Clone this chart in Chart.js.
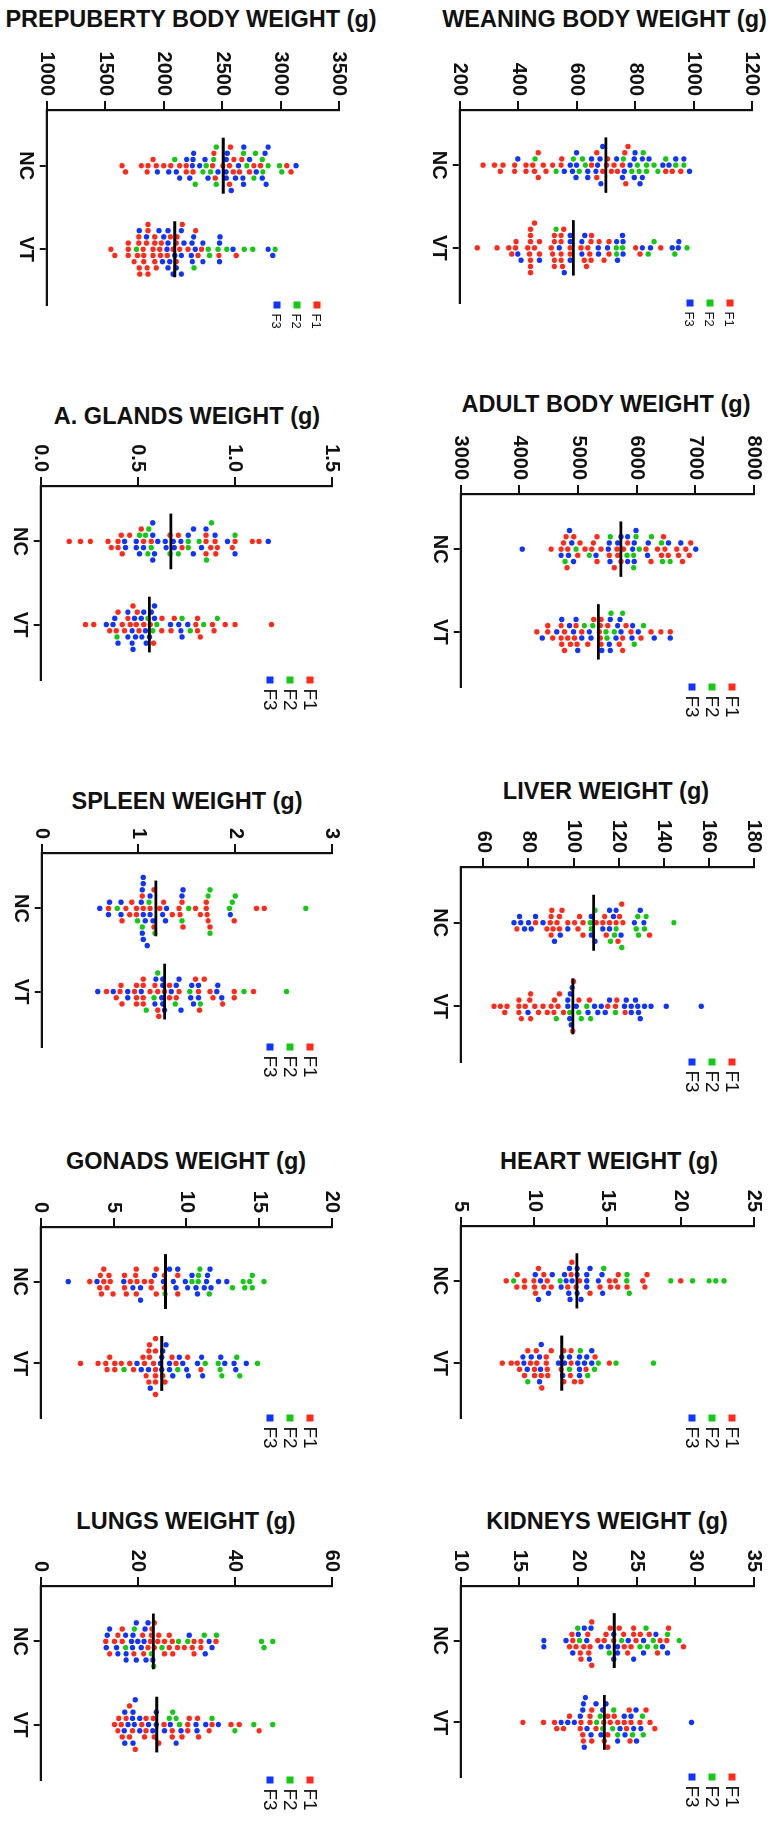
<!DOCTYPE html>
<html><head><meta charset="utf-8">
<script src="https://cdn.jsdelivr.net/npm/chart.js@4.4.1/dist/chart.umd.min.js"></script>
<style>
html,body{margin:0;padding:0;background:#fff;}
body{width:776px;height:1825px;position:relative;overflow:hidden;font-family:"Liberation Sans",Arial,Helvetica,sans-serif;}
.ttl{position:absolute;white-space:nowrap;font-weight:bold;font-size:23.5px;line-height:23.5px;color:#111;transform:translateX(-50%);}
canvas{position:absolute;transform-origin:0 0;transform:rotate(90deg);}
</style></head><body>
<script>
// ---------- DATA ----------
const categories = ['NC', 'VT'];
const generations = ['F1', 'F2', 'F3'];
const panelTitles = ['PREPUBERTY BODY WEIGHT (g)', 'WEANING BODY WEIGHT (g)', 'A. GLANDS WEIGHT (g)', 'ADULT BODY WEIGHT (g)',
  'SPLEEN WEIGHT (g)', 'LIVER WEIGHT (g)', 'GONADS WEIGHT (g)', 'HEART WEIGHT (g)', 'LUNGS WEIGHT (g)', 'KIDNEYS WEIGHT (g)'];
const valueMin = [1000, 200, 0, 3000, 0, 50, 0, 5, 0, 10];
const valueMax = [3500, 1200, 1.5, 8000, 3, 180, 20, 25, 60, 35];
const ticksPrepuberty = [1000, 1500, 2000, 2500, 3000, 3500];
const ticksWeaning = [200, 400, 600, 800, 1000, 1200];
const ticksGlands = [0, 0.5, 1.0, 1.5];
const ticksAdult = [3000, 4000, 5000, 6000, 7000, 8000];
const ticksSpleen = [0, 1, 2, 3];
const ticksLiver = [60, 80, 100, 120, 140, 160, 180];
const ticksGonads = [0, 5, 10, 15, 20];
const ticksHeart = [5, 10, 15, 20, 25];
const ticksLungs = [0, 20, 40, 60];
const ticksKidneys = [10, 15, 20, 25, 30, 35];
const tickDecimals = [0, 0, 1, 0, 0, 0, 0, 0, 0, 0];
// medians [NC, VT]
const medianPrepuberty = [2510, 2095];
const medianWeaning = [700, 589];
const medianGlands = [0.67, 0.56];
const medianAdult = [5732, 5347];
const medianSpleen = [1.18, 1.27];
const medianLiver = [108.9, 99.7];
const medianGonads = [8.57, 8.31];
const medianHeart = [12.92, 11.89];
const medianLungs = [23.2, 23.9];
const medianKidneys = [23.09, 22.24];

const prepubertyNC_F1 = [2564,2251,2442,2573,2735,2829,1910,2137,2194,2507,2772,3090,1645,1810,1859,2430,2601,2649,3053,1674,1867,1938,2001,2061,2595,2669,2194,2419,2564];
const prepubertyNC_F2 = [2712,2271,2336,2894,2095,2402,2450,2991,2428,2772,3011,2365,2786,2843,2450,2684,2849];
const prepubertyNC_F3 = [2578,2641,1947,2223,2678,2044,2257,2354,2615,2684,2843,2137,2197,2533,2792,2877,2109,2246,2379,2536,2868,3133,2308,2465,2544,2686,2894,2251,2536,2735];
const prepubertyVT_F1 = [1830,1853,2032,2160,1830,1924,2294,1697,1788,1867,1924,1973,2137,2621,1549,1697,1748,1796,1867,1924,1981,2209,2473,1583,1697,1791,1859,1910,1967,2081,2115,2325,1788,1910,2109,1776,1825,1867,1938,2058,2109,2274];
const prepubertyVT_F2 = [2260,1768,2382,2541,2689,2763,2954,2393,2465];
const prepubertyVT_F3 = [2152,1791,1990,2052,2109,2152,2336,2479,2038,2081,2237,2479,2038,2095,2152,2257,2593,2894,2038,2174,2246,2482,2934,1853,1961,2029,2243,2001,2336,2271];

const weaningNC_F1 = [469,669,768,388,469,549,702,719,757,956,280,319,339,427,450,486,518,689,706,728,348,388,427,456,495,547,651,669,740,765,905,927,776];
const weaningNC_F2 = [828,609,589,620,789,808,530,865,905,967,630,839,878,458,760,939,814,839];
const weaningNC_F3 = [600,683,757,848,638,672,797,825,939,666,895,916,399,558,586,638,651,800,825,986,578,598,797,967,689,737,817,600,680,763,783];
const weaningVT_F1 = [439,518,645,393,442,524,547,677,442,473,578,626,651,711,260,328,368,391,433,456,513,552,578,634,694,711,802,888,378,442,456,524,547,615,649,817,442,524,547,649,442,524,556,638,442,473,547];
const weaningVT_F2 = [736,757,530,978,845,865,936,737];
const weaningVT_F3 = [541,578,628,399,674,473,618,675,737,757,825,853,927,950,410,578,706,740,759,578,618,759,948,558];

const glandsNC_F1 = [0.851,0.518,0.666,0.851,0.898,0.364,0.398,0.458,0.709,0.851,0.876,0.902,1.001,0.147,0.205,0.256,0.347,0.398,0.420,0.529,0.910,1.090,1.124,0.987,0.415,0.569,0.728];
const glandsNC_F2 = [0.509,0.569,0.552,0.540,0.666,0.557,0.709,0.760,0.854,1.001,0.760,0.816,0.880];
const glandsNC_F3 = [0.586,0.432,0.577,0.760,0.787,0.828,0.492,0.641,0.683,0.786,0.962,1.172,0.492,0.529,0.603,0.646,0.688,0.722,1.001,0.437,0.577,0.898,0.509,0.577,0.851];
const glandsVT_F1 = [0.449,0.506,0.475,0.531,0.420,0.492,0.625,0.808,0.389,0.432,0.461,0.497,0.581,0.671,0.822,0.231,0.273,0.688,0.893,0.950,1.001,1.189,0.355,0.398,0.799,0.885,0.623,0.808,0.564];
const glandsVT_F2 = [0.577,0.552,0.770,0.393,0.910,0.598,0.728,0.839];
const glandsVT_F3 = [0.586,0.381,0.540,0.728,0.543,0.711,0.338,0.372,0.471,0.569,0.722,0.757,0.475,0.668,0.398,0.449,0.488,0.531,0.560,0.449,0.483,0.518,0.586,0.471,0.521];

const adultNC_F1 = [4752,5262,5619,4995,5732,6158,6243,6537,6895,4542,4825,4927,5324,5676,6356,6458,6685,6781,4712,4814,5120,5234,5778,6424,6713,6923,4797,5392,5846,6838,5035,5324,5534,5664,6481];
const adultNC_F2 = [6441,5835,6424,5948,4967,6044,6571,5194,5551,5988,4780,5948,6254];
const adultNC_F3 = [4922,5846,5988,4854,5307,5545,5959,4712,5534,5846,6186,7008,4049,5517,5676,5931,5732,6197,6753,4893,6543,4837,5959];
const adultVT_F1 = [4712,4984,5761,4825,5381,4485,4769,5364,5704,6073,4298,4570,4723,4871,4939,5064,5166,5268,5506,5903,6243,6413,6572,5392,4485,4712,4967,5392,5817,4769,5381,5761];
const adultVT_F2 = [5109,5562,5251,5761,5959,6118,5494,5477,5619];
const adultVT_F3 = [5534,5647,4723,4922,5064,5194,5715,5920,6027,4638,5551,5931,6299,5404,5732,4389,4995,5551,6572,4854,5222,5676,4967];

const spleenNC_F1 = [1.04,0.87,1.16,1.22,1.45,0.83,0.93,1.05,1.16,1.42,1.46,1.59,1.64,1.72,2.22,2.30,0.91,1.35,1.43,0.69,0.98,1.12,1.26,1.70,0.98,1.70,1.71,1.99,1.74];
const spleenNC_F2 = [1.11,0.78,0.99,1.45,1.52,1.72,1.94,2.00,2.73,1.17,1.74,1.97,1.74,1.04];
const spleenNC_F3 = [1.09,1.05,1.05,1.12,1.07,1.28,0.70,1.29,0.60,0.69,1.04,1.25,0.82,1.05,1.15,1.45,0.82,1.03,1.95,1.12,1.46,1.05,1.04];
const spleenVT_F1 = [1.20,1.62,1.63,0.83,0.96,1.05,1.42,0.81,0.98,1.05,1.32,1.39,1.99,0.67,1.68,2.19,0.77,0.82,0.98,1.05,1.17,1.32,1.59,1.74,1.99,0.98,1.05,1.21,1.77,1.87,1.12,1.20,1.27];
const spleenVT_F2 = [1.64,1.53,2.09,2.53,1.08,1.16,1.38,1.20];
const spleenVT_F3 = [1.27,1.18,1.25,1.57,1.82,0.74,0.89,1.17,1.25,1.62,1.86,0.58,0.89,1.25,1.39,1.54,1.44,1.55,1.81,1.03,1.24,1.34,1.42,1.62];

const liverNC_F1 = [89.7,92.7,90.4,93.8,133.7,83.2,88.2,102.7,110.1,114.5,118.9,121.9,90.1,93.8,100.5,104.2,74.9,90.9,94.9,97.5,102.0,104.2,113.0,116.0,120.4,90.1,113.8,119.7,121.4];
const liverNC_F2 = [121.4,107.9,116.4,107.4,128.8,131.5,118.9,144.5,127.8,132.2,109.6,128.5,118.2];
const liverNC_F3 = [117.7,118.9,129.6,73.6,76.6,80.1,94.1,76.1,83.2,86.5,97.5,109.6,113.0,116.0,121.1,127.0,131.2,78.3,81.3,107.9,107.9,116.0,91.6];
const liverVT_F1 = [75.8,80.6,93.1,102.4,119.2,122.9,69.5,75.8,82.8,86.5,90.1,93.8,100.0,107.1,64.8,67.6,70.5,75.8,78.6,81.0,84.5,88.4,91.3,99.7,115.2,118.6,76.9,81.0,91.6,95.6];
const liverVT_F2 = [98.3,105.9,118.6,92.4,102.3,103.4,107.6];
const liverVT_F3 = [98.6,109.3,112.3,127.5,79.8,97.5,110.8,116.0,122.6,125.6,128.5,98.3,106.4,123.4,128.8,131.5,134.4,141.1,156.6,99.4,114.1,125.6,129.6,97.5,101.2,99.0];

const gonadsNC_F1 = [4.33,6.56,9.41,4.05,4.56,6.15,6.61,7.13,4.17,4.69,5.76,7.59,3.37,4.78,5.88,6.52,7.93,8.50,4.10,4.97,5.76,7.59,7.93,8.50,9.41,4.33,6.56];
const gonadsNC_F2 = [10.82,11.57,14.35,8.54,10.39,10.93,14.01,13.17,13.90,14.53,15.33,10.84,14.53];
const gonadsNC_F3 = [8.84,5.70,7.81,8.43,9.41,11.23,11.69,6.33,6.86,9.11,9.93,11.39,12.78,1.89,3.87,10.09,10.66,12.21,6.86,10.39,11.46,9.29,10.77,11.62];
const gonadsVT_F1 = [7.88,7.88,8.54,9.02,4.74,7.02,7.47,2.73,3.94,4.56,5.54,6.11,7.24,7.88,4.47,5.08,6.38,7.43,7.88,10.09,11.00,5.08,7.43,7.88,9.29,7.47,7.88,8.38,7.13,7.75];
const gonadsVT_F2 = [11.30,12.44,13.67,12.19,14.88,5.72,9.41,12.32,13.46];
const gonadsVT_F3 = [7.52,7.40,8.22,8.61,9.75,10.77,6.61,8.31,8.84,9.52,10.14,11.05,12.64,13.39,14.12,6.90,8.31,8.84,13.28,8.38,10.02,11.12,12.37,9.07];

const heartNC_F1 = [10.31,12.30,12.58,8.86,10.67,11.17,12.53,15.14,15.71,17.56,8.83,8.11,9.35,9.99,10.90,12.87,13.82,14.50,15.55,17.70,20.01,9.35,10.10,13.10,15.21,15.75,16.34,17.41,10.03,10.67];
const heartNC_F2 = [16.50,11.78,16.32,16.34,19.33,20.81,21.94,22.40,22.96,8.61,14.75];
const heartNC_F3 = [12.37,12.94,10.08,10.99,13.60,14.68,10.31,12.19,12.94,13.60,14.39,11.85,12.46,13.21,11.24,12.08,12.60,13.60,12.42,12.94,13.82,14.64,10.44];
const heartVT_F1 = [10.83,12.03,12.53,9.76,10.94,8.86,9.35,10.03,10.90,15.14,7.84,8.45,9.01,10.03,10.49,12.53,9.58,10.15,10.53,11.85,12.48,13.55,14.16,10.19,11.17,12.03,12.76,13.21,10.83];
const heartVT_F2 = [9.58,12.42,13.16,14.39,14.12,15.59,18.15,13.66];
const heartVT_F3 = [10.38,13.10,9.24,10.44,11.89,13.94,10.49,11.96,12.42,12.98,9.54,11.67,12.08,13.10,13.60,9.31,13.10,13.94,9.81,10.38,13.44];

const lungsNC_F1 = [23.4,16.8,22.1,24.1,31.6,13.4,19.2,22.8,26.5,28.2,33.0,14.2,15.2,16.8,21.0,23.4,25.5,27.2,29.6,31.2,33.0,15.9,22.9,25.5,27.1,21.2,26.5,31.6,36.1,22.6,24.3];
const lungsNC_F2 = [22.8,25.0,19.3,36.2,45.5,47.8,28.4,30.3,33.7,46.0,17.5,23.3];
const lungsNC_F3 = [20.0,17.6,18.7,19.7,21.3,35.3,15.9,17.6,20.7,21.7,30.6,33.9,15.6,13.5,22.1,34.7,13.7,17.5,19.0,21.5,14.2,18.9,19.7,23.1];
const lungsVT_F1 = [16.6,20.8,15.2,17.6,18.9,21.7,23.2,24.3,29.1,30.6,32.3,34.7,16.8,18.3,21.4,23.4,25.4,27.1,30.3,39.2,40.9,15.9,21.7,32.5,45.0,16.1,27.1,30.3,35.3,18.3,19.5];
const lungsVT_F2 = [27.9,28.6,35.3,43.9,47.8,26.5,40.0,27.2];
const lungsVT_F3 = [19.0,19.3,20.4,26.7,23.1,32.0,34.0,36.6,17.3,19.0,23.8,25.5,27.9,17.3,18.9,20.4,22.2,28.9,32.2,17.2,23.8,18.0,19.5];

const kidneysNC_F1 = [20.49,21.17,23.04,19.83,21.17,23.94,24.74,27.00,19.27,20.91,21.68,22.24,23.89,25.30,26.07,28.99,20.26,22.38,24.51,19.49,23.52,24.23,24.74,27.57,19.55,21.02,22.75,24.94,26.78,27.71,20.20,20.83];
const kidneysNC_F2 = [25.79,26.41,27.63,25.28,25.93,26.64,28.62,19.98,20.12,23.72,22.67];
const kidneysNC_F3 = [20.74,23.04,23.38,27.63,20.03,23.38,24.74,26.64,17.09,18.98,19.55,20.97,23.04,27.20,17.09,20.54,21.11,21.96,22.58,25.59,24.28,25.59];
const kidneysVT_F1 = [20.26,22.19,20.40,21.02,22.53,24.14,20.20,21.17,22.53,23.94,25.28,25.79,15.30,17.06,17.99,19.27,21.53,24.43,26.55,18.19,18.76,22.24,23.38,24.51,26.13,22.75,20.46,21.17,22.53,23.09,24.37,21.02];
const kidneysVT_F2 = [22.95,21.59,23.38,25.56,24.65,21.90,23.04,25.50,22.10];
const kidneysVT_F3 = [20.63,23.58,21.96,24.51,19.13,22.10,23.38,18.56,20.20,20.77,23.94,24.94,29.67,19.69,20.54,21.53,25.36,20.40,21.11,22.38,24.00,24.74,24.99,20.46];

// ---------- assembled from the named arrays ----------
const panelTicks = [ticksPrepuberty, ticksWeaning, ticksGlands, ticksAdult, ticksSpleen, ticksLiver, ticksGonads, ticksHeart, ticksLungs, ticksKidneys];
const panelMedians = [medianPrepuberty, medianWeaning, medianGlands, medianAdult, medianSpleen, medianLiver, medianGonads, medianHeart, medianLungs, medianKidneys];
const panelGroups = [
  [[prepubertyNC_F1, prepubertyNC_F2, prepubertyNC_F3], [prepubertyVT_F1, prepubertyVT_F2, prepubertyVT_F3]],
  [[weaningNC_F1, weaningNC_F2, weaningNC_F3], [weaningVT_F1, weaningVT_F2, weaningVT_F3]],
  [[glandsNC_F1, glandsNC_F2, glandsNC_F3], [glandsVT_F1, glandsVT_F2, glandsVT_F3]],
  [[adultNC_F1, adultNC_F2, adultNC_F3], [adultVT_F1, adultVT_F2, adultVT_F3]],
  [[spleenNC_F1, spleenNC_F2, spleenNC_F3], [spleenVT_F1, spleenVT_F2, spleenVT_F3]],
  [[liverNC_F1, liverNC_F2, liverNC_F3], [liverVT_F1, liverVT_F2, liverVT_F3]],
  [[gonadsNC_F1, gonadsNC_F2, gonadsNC_F3], [gonadsVT_F1, gonadsVT_F2, gonadsVT_F3]],
  [[heartNC_F1, heartNC_F2, heartNC_F3], [heartVT_F1, heartVT_F2, heartVT_F3]],
  [[lungsNC_F1, lungsNC_F2, lungsNC_F3], [lungsVT_F1, lungsVT_F2, lungsVT_F3]],
  [[kidneysNC_F1, kidneysNC_F2, kidneysNC_F3], [kidneysVT_F1, kidneysVT_F2, kidneysVT_F3]]
];

// ---------- LAYOUT / STYLE (page pixels) ----------
const genColors = ['#ff2a1a', '#14c814', '#1034ff'];
const FONT = '"Liberation Sans", Arial, Helvetica, sans-serif';
const layout = [
  {L:0,   aL:46.7,  aR:340,   aY:110,  cB:305,  clip:345,  tx:191,   ty:20,   lf:13},
  {L:388, aL:459.7, aR:753,   aY:110,  cB:303,  clip:345,  tx:604.5, ty:20,   lf:13},
  {L:0,   aL:40.7,  aR:333,   aY:486,  cB:680,  clip:722,  tx:187,   ty:417,  lf:19},
  {L:388, aL:460.7, aR:754.7, aY:494,  cB:687,  clip:729,  tx:606,   ty:405,  lf:19},
  {L:0,   aL:41.7,  aR:333,   aY:853,  cB:1047, clip:1089, tx:187,   ty:802,  lf:19},
  {L:388, aL:460.7, aR:754.7, aY:867,  cB:1062, clip:1104, tx:606,   ty:792,  lf:19},
  {L:0,   aL:40.7,  aR:333,   aY:1227, cB:1418, clip:1460, tx:186,   ty:1162, lf:19},
  {L:388, aL:460.7, aR:754.7, aY:1226, cB:1418, clip:1460, tx:609,   ty:1162, lf:19},
  {L:0,   aL:40.7,  aR:333,   aY:1586, cB:1780, clip:1822, tx:186,   ty:1522, lf:19},
  {L:388, aL:460.7, aR:754.7, aY:1586, cB:1777, clip:1822, tx:607,   ty:1522, lf:19}
];
const CAT_MIN = 1/3, CAT_MAX = 8/3;
const LANE_PX = 6.2, SEP_PX = 6.0, DOT_R = 2.7, MED_HALF = 0.335;
const LEGEND_OFF = [22, 42, 62];

// beeswarm: sorted by value, each dot goes to the nearest free lane
function swarm(groupArrays, center, pxPerVal, pxPerCat) {
  const pts = [];
  groupArrays.forEach((arr, g) => arr.forEach(v => pts.push({v, g})));
  pts.sort((a, b) => a.v - b.v);
  const last = {};
  pts.forEach(p => {
    const pix = p.v * pxPerVal;
    for (let k = 0; k < 60; k++) {
      const lane = k === 0 ? 0 : (k % 2 ? (k + 1) / 2 : -k / 2);
      if (last[lane] === undefined || pix - last[lane] >= SEP_PX) {
        last[lane] = pix; p.lane = lane; break;
      }
    }
  });
  return pts.map(p => ({x: center + p.lane * LANE_PX / pxPerCat, y: p.v, g: p.g}));
}

function makeLegend(fontSize) {
  return {
    id: 'genLegend',
    afterDraw(chart) {
      const ctx = chart.ctx, a = chart.chartArea;
      ctx.save();
      ctx.font = fontSize + 'px ' + FONT;
      ctx.textBaseline = 'middle';
      ctx.textAlign = 'left';
      generations.forEach((g, i) => {
        const y = a.top + LEGEND_OFF[i];
        ctx.fillStyle = genColors[i];
        ctx.fillRect(a.right - 3.5, y - 3.5, 7, 7);
        ctx.fillStyle = '#111';
        ctx.fillText(g, a.right + 8.5, y + 1);
      });
      ctx.restore();
    }
  };
}

layout.forEach((lay, i) => {
  const T = Math.round(lay.aY) - 80;
  const Hf = Math.round(lay.clip - T);
  const Wf = Math.ceil(lay.aR + 16 - lay.L);
  const padTop = lay.L + Wf - lay.aR;
  const padRight = Hf - (lay.cB - T);
  const yWidth = lay.aY - T;
  const xHeight = lay.aL - lay.L;

  const t = document.createElement('div');
  t.className = 'ttl';
  t.textContent = panelTitles[i];
  t.style.left = lay.tx + 'px';
  t.style.top = (lay.ty - 0.49 * 23.5) + 'px';
  document.body.appendChild(t);

  const cv = document.createElement('canvas');
  cv.width = Hf; cv.height = Wf;
  cv.style.left = (lay.L + Wf) + 'px';
  cv.style.top = T + 'px';
  cv.style.width = Hf + 'px';
  cv.style.height = Wf + 'px';
  document.body.appendChild(cv);

  const pxPerVal = (lay.aR - lay.aL) / (valueMax[i] - valueMin[i]);
  const pxPerCat = (lay.cB - lay.aY) / (CAT_MAX - CAT_MIN);
  let pts = [];
  panelGroups[i].forEach((grp, c) => { pts = pts.concat(swarm(grp, c + 1, pxPerVal, pxPerCat)); });

  const medSets = panelMedians[i].map((m, c) => ({
    type: 'scatter', showLine: true,
    data: [{x: c + 1 - MED_HALF, y: m}, {x: c + 1 + MED_HALF, y: m}],
    borderColor: '#000', borderWidth: 2.8, pointRadius: 0, clip: false
  }));
  const genSets = generations.map((g, gi) => ({
    type: 'scatter', label: g,
    data: pts.filter(p => p.g === gi).map(p => ({x: p.x, y: p.y})),
    backgroundColor: genColors[gi], borderWidth: 0, pointRadius: DOT_R, clip: false
  }));
  const dec = tickDecimals[i];
  const tv = panelTicks[i];

  new Chart(cv, {
    type: 'scatter',
    data: {datasets: medSets.concat(genSets)},
    options: {
      responsive: false, animation: false, devicePixelRatio: 1,
      layout: {padding: {top: padTop, right: padRight, left: 0, bottom: 0}},
      plugins: {legend: {display: false}, tooltip: {enabled: false}},
      events: [],
      scales: {
        x: {
          type: 'linear', position: 'bottom', min: CAT_MIN, max: CAT_MAX,
          afterBuildTicks: s => { s.ticks = categories.map((c, k) => ({value: k + 1})); },
          afterFit: s => { s.height = xHeight; },
          ticks: {callback: v => categories[Math.round(v) - 1], font: {family: FONT, size: 20, weight: 'bold'},
                  color: '#111', padding: 2, minRotation: 0, maxRotation: 0, autoSkip: false},
          grid: {display: true, drawOnChartArea: false, drawTicks: true, tickLength: 7, color: '#111', lineWidth: 2},
          border: {display: true, color: '#111', width: 2.2}
        },
        y: {
          type: 'linear', position: 'left', min: valueMin[i], max: valueMax[i],
          afterBuildTicks: s => { s.ticks = tv.map(v => ({value: v})); },
          afterFit: s => { s.width = yWidth; },
          ticks: {callback: v => Number(v).toFixed(dec), font: {family: FONT, size: 20, weight: 'bold'},
                  color: '#111', padding: 5, autoSkip: false},
          grid: {display: true, drawOnChartArea: false, drawTicks: true, tickLength: 9, color: '#111', lineWidth: 2},
          border: {display: true, color: '#111', width: 2.2}
        }
      }
    },
    plugins: [makeLegend(lay.lf)]
  });
});
</script>
</body></html>
